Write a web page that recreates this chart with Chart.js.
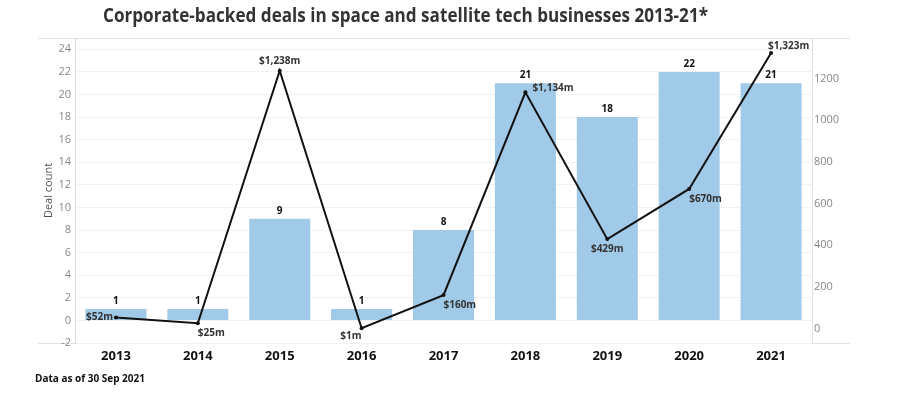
<!DOCTYPE html>
<html>
<head>
<meta charset="utf-8">
<script src="https://cdn.jsdelivr.net/npm/chart.js@4"></script>
<style>
  html, body { margin: 0; padding: 0; background: #fff; }
  #wrap { position: relative; width: 900px; height: 393px; overflow: hidden; }
  #chart { position: absolute; left: 0; top: 0; }
  #title {
    position: absolute; left: 103px; top: 6px;
    font: bold 19px "Open Sans", sans-serif; color: #333;
    white-space: nowrap; line-height: 1; transform-origin: 0 0;
  }
  #note {
    position: absolute; left: 35px; top: 373px;
    font: bold 10px "Open Sans", sans-serif; color: #111;
    white-space: nowrap; line-height: 1;
  }
</style>
</head>
<body>
<div id="wrap">
  <canvas id="chart" width="900" height="393"></canvas>
  <div id="title">Corporate-backed deals in space and satellite tech businesses 2013-21*</div>
  <div id="note">Data as of 30 Sep 2021</div>
</div>
<script>
const years = ["2013", "2014", "2015", "2016", "2017", "2018", "2019", "2020", "2021"];
const dealCounts = [1, 1, 9, 1, 8, 21, 18, 22, 21];
const dealValues = [52, 25, 1238, 1, 160, 1134, 429, 670, 1323];
const countTicks = [-2, 0, 2, 4, 6, 8, 10, 12, 14, 16, 18, 20, 22, 24];
const valueTicks = [0, 200, 400, 600, 800, 1000, 1200];

// where each $ label sits relative to its point
const valueLabelPlace = [
  { align: "right", dx: -3, dy: 0 },
  { align: "left", dx: 0, dy: 10 },
  { align: "center", dx: 0, dy: -10 },
  { align: "right", dx: 0, dy: 8 },
  { align: "left", dx: 0, dy: 10 },
  { align: "left", dx: 7, dy: -4 },
  { align: "center", dx: 0, dy: 10 },
  { align: "left", dx: 0, dy: 10 },
  { align: "left", dx: -3, dy: -7 }
];

// fit the condensed-looking title to its width in the picture
const titleEl = document.getElementById("title");
const tw = titleEl.getBoundingClientRect().width;
titleEl.style.transform = `scaleX(${605 / tw})`;

const frameLines = {
  id: "frameLines",
  beforeDraw(chart) {
    const { ctx, chartArea } = chart;
    ctx.save();
    ctx.strokeStyle = "#e2e2e2";
    ctx.lineWidth = 1;
    ctx.beginPath();
    ctx.moveTo(38, chartArea.top + 0.5);
    ctx.lineTo(850, chartArea.top + 0.5);
    ctx.moveTo(38, chartArea.bottom + 0.5);
    ctx.lineTo(850, chartArea.bottom + 0.5);
    ctx.stroke();
    ctx.restore();
  }
};

const pointLabels = {
  id: "pointLabels",
  afterDatasetsDraw(chart) {
    const { ctx } = chart;
    ctx.save();
    ctx.textBaseline = "middle";

    const bars = chart.getDatasetMeta(0).data;
    ctx.font = "bold 10px 'Open Sans'";
    ctx.fillStyle = "#111";
    ctx.textAlign = "center";
    bars.forEach((bar, i) => {
      ctx.fillText(String(dealCounts[i]), bar.x, bar.y - 8);
    });

    const pts = chart.getDatasetMeta(1).data;
    ctx.font = "bold 10px 'Open Sans'";
    ctx.fillStyle = "#333";
    pts.forEach((pt, i) => {
      const p = valueLabelPlace[i];
      ctx.textAlign = p.align;
      ctx.fillText("$" + dealValues[i].toLocaleString("en-US") + "m", pt.x + p.dx, pt.y + p.dy);
    });
    ctx.restore();
  }
};

new Chart(document.getElementById("chart"), {
  type: "bar",
  data: {
    labels: years,
    datasets: [
      {
        label: "Deal count",
        data: dealCounts,
        backgroundColor: "#a0cae8",
        barPercentage: 0.745,
        categoryPercentage: 1,
        yAxisID: "y",
        order: 1
      },
      {
        type: "line",
        label: "Deal value ($m)",
        data: dealValues,
        borderColor: "#111",
        borderWidth: 2,
        pointRadius: 2,
        pointBackgroundColor: "#111",
        pointBorderWidth: 0,
        tension: 0,
        yAxisID: "y1",
        order: 0
      }
    ]
  },
  options: {
    responsive: false,
    animation: false,
    layout: { padding: { top: 38, left: 0, right: 0, bottom: 0 } },
    plugins: {
      legend: { display: false },
      tooltip: { enabled: false }
    },
    scales: {
      x: {
        grid: { display: false, drawTicks: false },
        border: { display: false },
        ticks: {
          color: "#111",
          padding: 5,
          font: { family: "Open Sans", size: 13, weight: "bold" }
        },
        afterFit(scale) { scale.height = 50; }
      },
      y: {
        position: "left",
        min: -2,
        max: 25,
        afterBuildTicks(axis) { axis.ticks = countTicks.map(v => ({ value: v })); },
        grid: { color: "#f1f1f1", drawTicks: false },
        border: { color: "#dcdcdc" },
        ticks: {
          color: "#888",
          padding: 4,
          font: { family: "Open Sans", size: 11 },
          callback: v => String(v)
        },
        title: {
          display: true,
          text: "Deal count",
          color: "#555",
          font: { family: "Open Sans", size: 11 },
          padding: { top: 42, bottom: 0 }
        },
        afterFit(scale) { scale.width = 75; }
      },
      y1: {
        position: "right",
        min: -70,
        max: 1395,
        afterBuildTicks(axis) { axis.ticks = valueTicks.map(v => ({ value: v })); },
        grid: { drawOnChartArea: false, drawTicks: false },
        border: { color: "#dde3ee" },
        ticks: {
          color: "#888",
          padding: 2,
          font: { family: "Open Sans", size: 11 },
          callback: v => String(v)
        },
        afterFit(scale) { scale.width = 88; }
      }
    }
  },
  plugins: [frameLines, pointLabels]
});
</script>
</body>
</html>
